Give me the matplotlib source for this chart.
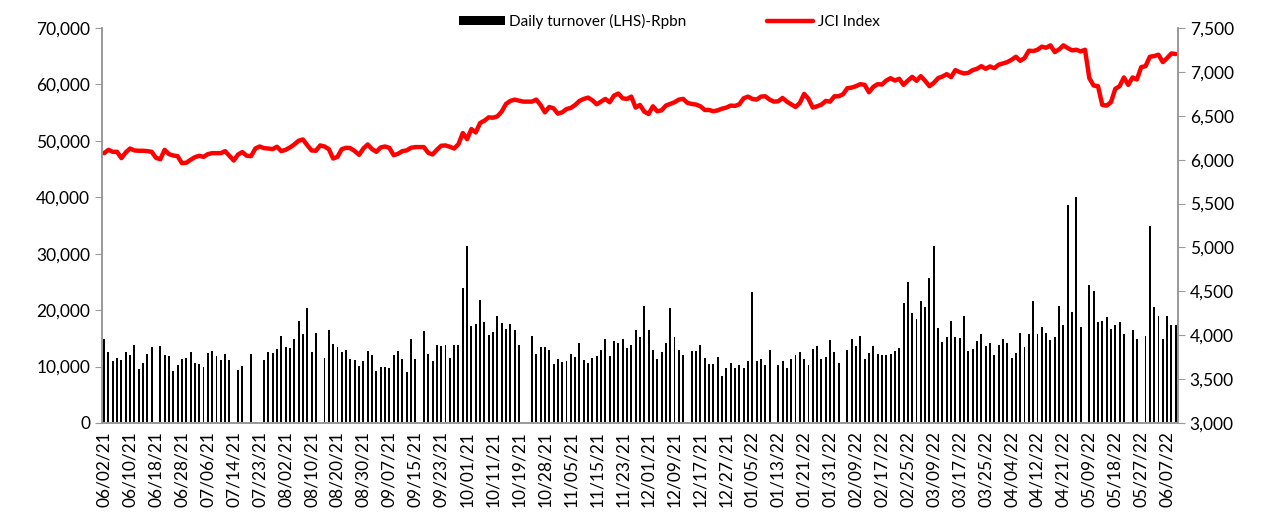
import matplotlib.pyplot as plt
import numpy as np
from matplotlib.ticker import FuncFormatter

plt.rcParams['font.family'] = ['Lato', 'DejaVu Sans']

# daily turnover, Rp bn (thousands); None = no trading that day
turnover_k = [
    14.8, 12.6, 11.0, 11.6, 11.1, 12.6, 12.0, 13.8, 9.5, 10.6,
    12.3, 13.5, None, 13.6, 12.0, 11.9, 9.3, 10.2, 11.4, 11.6,
    12.6, 10.7, 10.5, 9.9, 12.4, 12.7, 11.8, 11.2, 12.2, 11.1,
    None, 9.4, 10.1, None, 12.3, None, None, 11.1, 12.5, 12.4,
    13.2, 15.4, 13.5, 13.3, 14.8, 18.1, 15.8, 20.4, 12.6, 16.0,
    None, 11.6, 16.5, 14.0, 13.5, 12.6, 12.9, 11.3, 11.1, 10.1,
    10.9, 12.8, 12.0, 9.2, 10.0, 10.0, 9.7, 12.0, 12.8, 11.3,
    9.1, 14.9, 11.4, None, 16.3, 12.2, 10.9, 13.9, 13.6, 13.8,
    11.6, 13.8, 13.9, 24.0, 31.4, 17.1, 17.6, 21.8, 17.9, 15.6,
    16.1, 19.0, 17.7, 16.7, 17.6, 16.4, 13.8, None, None, 15.4,
    12.2, 13.4, 13.4, 12.9, 10.5, 11.3, 10.8, 11.0, 12.3, 11.7,
    14.1, 11.2, 10.7, 11.6, 11.9, 12.9, 14.9, 11.9, 14.5, 14.2,
    14.8, 13.3, 13.8, 16.4, 15.3, 20.7, 16.4, 13.0, 11.3, 12.6,
    14.1, 20.4, 15.2, 13.0, 12.0, None, 12.8, 12.7, 13.8, 11.5,
    10.4, 10.4, 11.7, 8.4, 9.8, 10.6, 9.7, 10.2, 9.7, 11.0,
    23.2, 10.9, 11.3, 10.3, 12.9, None, 10.3, 10.9, 9.7, 11.4,
    12.0, 12.6, 11.4, 10.3, 13.2, 13.6, 11.3, 11.7, 14.7, 12.5,
    10.6, None, 12.9, 14.8, 13.6, 15.4, 11.3, 12.4, 13.6, 12.2,
    12.0, 12.0, 12.3, 12.8, 13.3, 21.2, 25.0, 19.5, 18.5, 21.6,
    20.6, 25.7, 31.4, 16.8, 14.3, 15.2, 18.1, 15.2, 15.0, 19.0,
    12.8, 13.2, 14.5, 15.7, 13.6, 14.2, 12.0, 13.8, 14.9, 14.2,
    11.5, 12.4, 15.9, 13.5, 15.8, 21.6, 15.8, 17.0, 16.0, 14.7,
    15.2, 20.8, 17.3, 38.7, 19.6, 40.1, 17.0, None, 24.4, 23.4,
    17.9, 18.0, 18.7, 16.6, 17.4, 17.9, 15.8, None, 16.4, 14.9,
    None, 15.4, 34.9, 20.6, 18.9, 14.9, 18.9, 17.3, 17.3,
]

jci = [
    6074, 6112, 6089, 6089, 6017, 6082, 6127, 6105, 6101, 6101,
    6097, 6089, 6021, 6005, 6112, 6063, 6047, 6040, 5960, 5964,
    5998, 6028, 6044, 6032, 6063, 6074, 6074, 6074, 6097, 6044,
    5990, 6059, 6086, 6044, 6040, 6127, 6150, 6131, 6127, 6120,
    6147, 6097, 6112, 6139, 6173, 6215, 6230, 6166, 6105, 6101,
    6162, 6150, 6120, 6013, 6032, 6120, 6135, 6131, 6097, 6055,
    6127, 6173, 6120, 6089, 6139, 6150, 6135, 6051, 6066, 6097,
    6105, 6135, 6143, 6143, 6143, 6078, 6059, 6112, 6158, 6162,
    6147, 6127, 6177, 6303, 6234, 6349, 6310, 6417, 6444, 6482,
    6478, 6493, 6547, 6635, 6669, 6684, 6673, 6661, 6661, 6661,
    6684, 6623, 6539, 6600, 6585, 6524, 6539, 6577, 6589, 6623,
    6669, 6692, 6707, 6676, 6631, 6661, 6692, 6654, 6730, 6753,
    6699, 6692, 6718, 6593, 6623, 6547, 6520, 6608, 6551, 6562,
    6616, 6635, 6654, 6684, 6692, 6646, 6635, 6627, 6608, 6566,
    6566, 6551, 6562, 6581, 6593, 6616, 6612, 6631, 6699, 6718,
    6692, 6684, 6718, 6722, 6684, 6661, 6665, 6703, 6661, 6631,
    6600, 6646, 6749, 6692, 6593, 6608, 6627, 6669, 6661, 6722,
    6722, 6745, 6814, 6821, 6837, 6860, 6852, 6768, 6829, 6860,
    6856, 6901, 6928, 6901, 6921, 6852, 6901, 6943, 6898, 6951,
    6898, 6837, 6875, 6928, 6947, 6974, 6940, 7020, 6997, 6982,
    6989, 7020, 7035, 7065, 7035, 7062, 7042, 7081, 7096, 7111,
    7138, 7172, 7126, 7157, 7241, 7237, 7252, 7287, 7275, 7302,
    7226, 7256, 7302, 7271, 7245, 7252, 7233, 7252, 6928, 6844,
    6837, 6623, 6616, 6654, 6806, 6837, 6936, 6852, 6936, 6913,
    7054, 7065, 7172, 7180, 7195, 7111, 7157, 7210, 7203,
]

tick_labels = [
    '06/02/21', '06/10/21', '06/18/21', '06/28/21', '07/06/21', '07/14/21',
    '07/23/21', '08/02/21', '08/10/21', '08/20/21', '08/30/21', '09/07/21',
    '09/15/21', '09/23/21', '10/01/21', '10/11/21', '10/19/21', '10/28/21',
    '11/05/21', '11/15/21', '11/23/21', '12/01/21', '12/09/21', '12/17/21',
    '12/27/21', '01/05/22', '01/13/22', '01/21/22', '01/31/22', '02/09/22',
    '02/17/22', '02/25/22', '03/09/22', '03/17/22', '03/25/22', '04/04/22',
    '04/12/22', '04/21/22', '05/09/22', '05/18/22', '05/27/22', '06/07/22',
]
tick_step = 6

x = np.arange(len(jci))
turnover = np.array([np.nan if v is None else v * 1000 for v in turnover_k])

fig = plt.figure(figsize=(12.7, 5.25), dpi=100)
ax = fig.add_axes([0.0803, 0.1943, 0.8472, 0.7524])
ax2 = ax.twinx()

ax.bar(x, turnover, width=0.45, color='black', label='Daily turnover (LHS)-Rpbn')
ax2.plot(x, jci, color='#ff0000', lw=3.2, label='JCI Index',
         solid_joinstyle='round', solid_capstyle='round')

ax.set_xlim(-0.5, len(x) - 0.5)
ax.set_ylim(0, 70000)
ax.set_yticks(np.arange(0, 70001, 10000))
ax2.set_ylim(3000, 7500)
ax2.set_yticks(np.arange(3000, 7501, 500))

comma = FuncFormatter(lambda v, p: f'{v:,.0f}')
ax.yaxis.set_major_formatter(comma)
ax2.yaxis.set_major_formatter(comma)

ax.set_xticks(x[::tick_step][:len(tick_labels)])
ax.set_xticklabels(tick_labels, rotation=90, fontsize=12.5)
ax.tick_params(axis='x', length=0, pad=6)
ax.tick_params(axis='y', labelsize=12.5, length=5, color='#999999', direction='out')
ax2.tick_params(axis='y', labelsize=12.5, length=5, color='#999999', direction='out')

for a in (ax, ax2):
    a.spines['top'].set_visible(False)
    for s in ('left', 'right', 'bottom'):
        a.spines[s].set_color('#999999')
        a.spines[s].set_linewidth(1.2)

h1, l1 = ax.get_legend_handles_labels()
h2, l2 = ax2.get_legend_handles_labels()
fig.legend(h1 + h2, l1 + l2, loc='upper center', bbox_to_anchor=(0.527, 1.0),
           ncol=2, frameon=False, fontsize=11, handlelength=3.0,
           handleheight=0.55, columnspacing=5.3, handletextpad=0.3)

fig.savefig('out.png', dpi=100)
